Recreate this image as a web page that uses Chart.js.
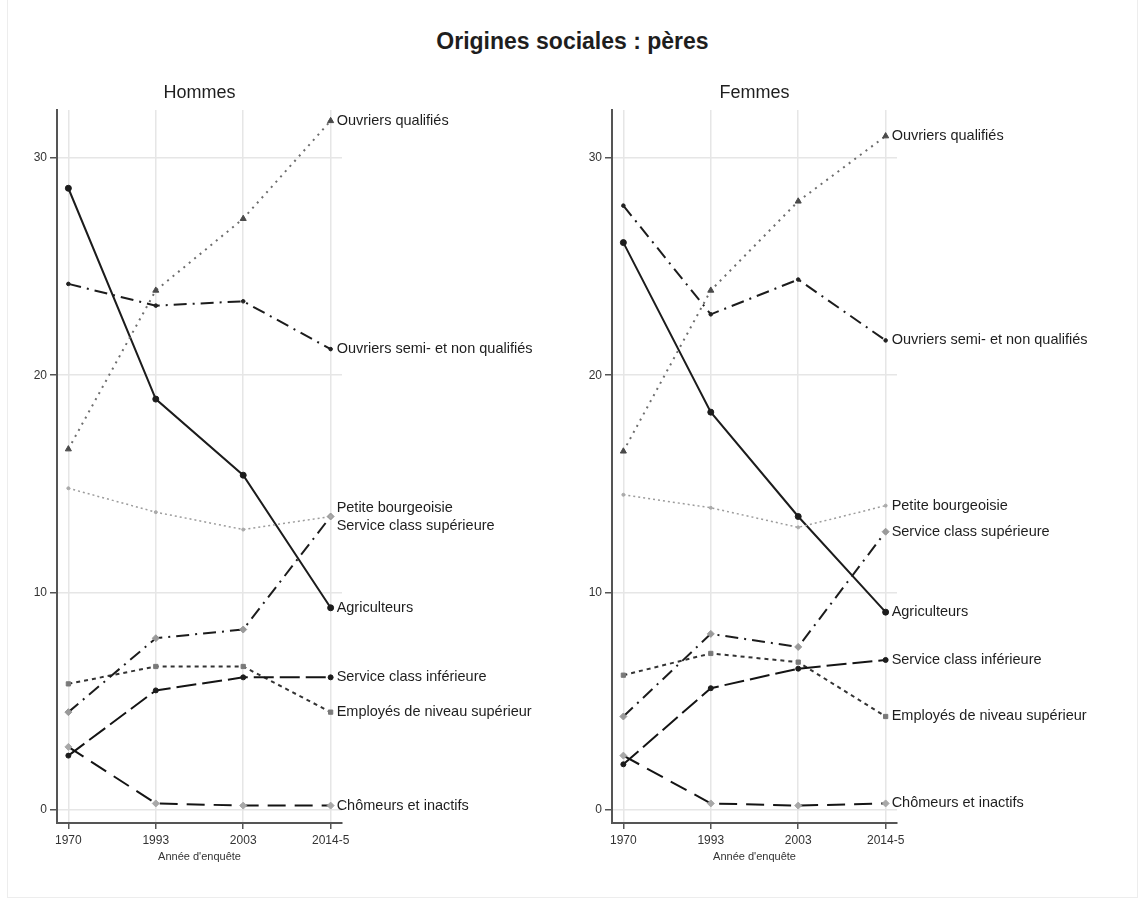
<!DOCTYPE html>
<html>
<head>
<meta charset="utf-8">
<script src="https://cdn.jsdelivr.net/npm/chart.js@4.4.1/dist/chart.umd.min.js"></script>
<style>
  html, body { margin:0; padding:0; background:#fff; }
  #wrap { position:relative; width:1145px; height:903px; overflow:hidden; font-family:"Liberation Sans", Arial, sans-serif; }
  #title { position:absolute; left:0; width:1145px; top:28px; text-align:center; font-weight:bold; font-size:23px; color:#1e1e1e; }
  .panel { position:absolute; top:0; }
  #frame { position:absolute; left:7px; top:-2px; width:1131px; height:900px; border:1px solid #ededed; box-sizing:border-box; }
</style>
</head>
<body>
<div id="wrap">
  <div id="frame"></div>
  <div id="title">Origines sociales : pères</div>
  <div class="panel" style="left:0px;"><canvas id="c1" width="572" height="903"></canvas></div>
  <div class="panel" style="left:572px;"><canvas id="c2" width="573" height="903"></canvas></div>
</div>
<script>
// ---------- DATA ----------
const categories = ['1970', '1993', '2003', '2014-5'];
const yTicks = [0, 10, 20, 30];
const panelTitles = ['Hommes', 'Femmes'];
const xAxisTitle = "Année d'enquête";

const seriesLabels = [
  'Ouvriers qualifiés',
  'Ouvriers semi- et non qualifiés',
  'Petite bourgeoisie',
  'Service class supérieure',
  'Agriculteurs',
  'Service class inférieure',
  'Employés de niveau supérieur',
  'Chômeurs et inactifs'
];

// Hommes
const hommesOuvQualifies   = [16.6, 23.9, 27.2, 31.7];
const hommesOuvSemi        = [24.2, 23.2, 23.4, 21.2];
const hommesPetiteBourg    = [14.8, 13.7, 12.9, 13.5];
const hommesServiceSup     = [4.5, 7.9, 8.3, 13.5];
const hommesAgriculteurs   = [28.6, 18.9, 15.4, 9.3];
const hommesServiceInf     = [2.5, 5.5, 6.1, 6.1];
const hommesEmployes       = [5.8, 6.6, 6.6, 4.5];
const hommesChomeurs       = [2.9, 0.3, 0.2, 0.2];

// Femmes
const femmesOuvQualifies   = [16.5, 23.9, 28.0, 31.0];
const femmesOuvSemi        = [27.8, 22.8, 24.4, 21.6];
const femmesPetiteBourg    = [14.5, 13.9, 13.0, 14.0];
const femmesServiceSup     = [4.3, 8.1, 7.5, 12.8];
const femmesAgriculteurs   = [26.1, 18.3, 13.5, 9.1];
const femmesServiceInf     = [2.1, 5.6, 6.5, 6.9];
const femmesEmployes       = [6.2, 7.2, 6.8, 4.3];
const femmesChomeurs       = [2.5, 0.3, 0.2, 0.3];

const hommesSeries = [hommesOuvQualifies, hommesOuvSemi, hommesPetiteBourg, hommesServiceSup,
                      hommesAgriculteurs, hommesServiceInf, hommesEmployes, hommesChomeurs];
const femmesSeries = [femmesOuvQualifies, femmesOuvSemi, femmesPetiteBourg, femmesServiceSup,
                      femmesAgriculteurs, femmesServiceInf, femmesEmployes, femmesChomeurs];

// ---------- STYLES ----------
const styles = [
  { color:'#6e6e6e', dash:[2,5],          width:2,   point:'triangle', pr:3.5, pc:'#4a4a4a' }, // Ouvriers qualifiés
  { color:'#1c1c1c', dash:[13,6,2,6],     width:2,   point:'circle',   pr:1.8, pc:'#222'    }, // Ouvriers semi
  { color:'#9c9c9c', dash:[2,3],          width:1.5, point:'circle',   pr:1.5, pc:'#aaa'    }, // Petite bourgeoisie
  { color:'#1c1c1c', dash:[13,6,2,6],     width:2,   point:'rectRot',  pr:3.5, pc:'#9a9a9a' }, // Service class sup
  { color:'#1c1c1c', dash:[],             width:2,   point:'circle',   pr:3,   pc:'#1c1c1c' }, // Agriculteurs
  { color:'#141414', dash:[20,6],         width:2,   point:'circle',   pr:2.5, pc:'#1c1c1c' }, // Service class inf
  { color:'#333333', dash:[4,4],          width:2,   point:'rect',     pr:3,   pc:'#7a7a7a' }, // Employés
  { color:'#141414', dash:[18,9],         width:2,   point:'rectRot',  pr:3.5, pc:'#a8a8a8' }  // Chômeurs
];
// vertical nudges (px) for end labels that would overlap
const labelNudges = [
  [0, 0, -8, 10, 0, 0, 0, 0],
  [0, 0, 0, 0, 0, 0, 0, 0]
];

const FONT = '"Liberation Sans", Arial, Helvetica, sans-serif';

const endLabelPlugin = {
  id: 'endLabels',
  afterDatasetsDraw(chart, args, opts) {
    const ctx = chart.ctx;
    ctx.save();
    ctx.font = '14.5px ' + FONT;
    ctx.fillStyle = '#1e1e1e';
    ctx.textAlign = 'left';
    ctx.textBaseline = 'middle';
    chart.data.datasets.forEach((ds, i) => {
      const meta = chart.getDatasetMeta(i);
      const el = meta.data[meta.data.length - 1];
      ctx.fillText(ds.label, el.x + 6, el.y + (opts.nudges[i] || 0));
    });
    // panel title centred on plot area
    const ca = chart.chartArea;
    ctx.font = '18px ' + FONT;
    ctx.textAlign = 'center';
    ctx.fillText(opts.panelTitle, (ca.left + ca.right) / 2, 93);
    ctx.restore();
  }
};

function makeChart(canvasId, series, yAxisWidth, rightPad, panelIdx) {
  const datasets = series.map((vals, i) => {
    const s = styles[i];
    return {
      label: seriesLabels[i],
      data: vals.map((v, k) => ({ x: k, y: v })),
      borderColor: s.color,
      borderWidth: s.width,
      borderDash: s.dash,
      borderCapStyle: 'butt',
      tension: 0,
      pointStyle: s.point,
      pointRadius: s.pr,
      pointBackgroundColor: s.pc,
      pointBorderColor: s.pc,
      pointBorderWidth: 1,
      fill: false
    };
  });
  return new Chart(document.getElementById(canvasId), {
    type: 'line',
    data: { datasets },
    options: {
      responsive: false,
      animation: false,
      devicePixelRatio: 1,
      layout: { padding: { left: 0, right: rightPad, top: 110, bottom: 30 } },
      plugins: {
        legend: { display: false },
        tooltip: { enabled: false },
        endLabels: { nudges: labelNudges[panelIdx], panelTitle: panelTitles[panelIdx] }
      },
      scales: {
        x: {
          type: 'linear',
          min: -0.13,
          max: 3.13,
          afterBuildTicks: (scale) => { scale.ticks = categories.map((c, k) => ({ value: k })); },
          afterFit: (scale) => { scale.height = 50; },
          ticks: {
            callback: (v) => categories[v],
            font: { family: FONT, size: 12 },
            color: '#333',
            padding: 4,
            maxRotation: 0,
            autoSkip: false
          },
          grid: { color: '#e6e6e6', lineWidth: 1.5, tickColor: '#555', tickLength: 6, tickWidth: 1.5 },
          border: { color: '#555', width: 2 },
          title: { display: true, text: xAxisTitle, font: { family: FONT, size: 11 }, color: '#333', padding: { top: 0, bottom: 9 } }
        },
        y: {
          type: 'linear',
          min: -0.6,
          max: 32.2,
          afterBuildTicks: (scale) => { scale.ticks = yTicks.map(v => ({ value: v })); },
          afterFit: (scale) => { scale.width = yAxisWidth; },
          ticks: {
            font: { family: FONT, size: 12 },
            color: '#333',
            padding: 3
          },
          grid: { color: '#e6e6e6', lineWidth: 1.5, tickColor: '#555', tickLength: 7, tickWidth: 1.5 },
          border: { color: '#555', width: 2 }
        }
      }
    },
    plugins: [endLabelPlugin]
  });
}

makeChart('c1', hommesSeries, 57, 230, 0);
makeChart('c2', femmesSeries, 40, 248, 1);
</script>
</body>
</html>
